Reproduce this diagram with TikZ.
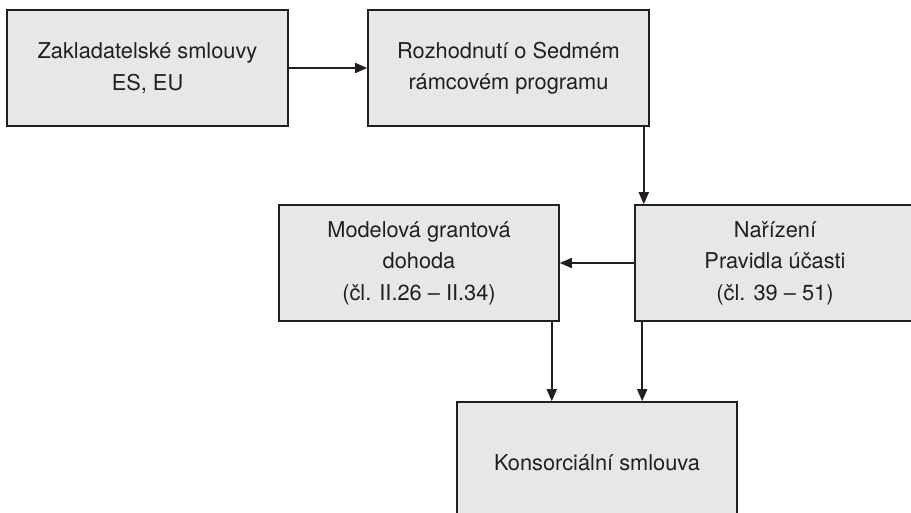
\documentclass[tikz,border=0pt]{standalone}
\usepackage{fontspec}
\setmainfont{TeX Gyre Heros}
\usetikzlibrary{arrows.meta}
\definecolor{boxfill}{HTML}{E6E7E8}
\definecolor{ink}{HTML}{231F20}
\begin{document}
\begin{tikzpicture}[x=1pt,y=-1pt,
  docbox/.style={draw=ink, line width=1.6pt, fill=boxfill, text=ink,
    font=\fontsize{21.8}{31.5}\selectfont, align=center, inner sep=0pt},
  flow/.style={draw=ink, line width=1.7pt,
    -{Triangle[length=12pt,width=10pt]}}]
\useasboundingbox (0,0) rectangle (911,513);
\clip (0,0) rectangle (911,513);
% document boxes
\node[docbox, minimum width=281pt, minimum height=116pt] (zakl) at (147.5,68)
  {Zakladatelské smlouvy\\ES, EU};
\node[docbox, minimum width=281pt, minimum height=116pt] (rozh) at (508.5,68)
  {Rozhodnutí o Sedmém\\rámcovém programu};
\node[docbox, minimum width=280pt, minimum height=116pt] (model) at (419,263)
  {Modelová grantová\\dohoda\\(čl. II.26 – II.34)};
\node[docbox, minimum width=280pt, minimum height=116pt] (nariz) at (775,263)
  {Nařízení\\Pravidla účasti\\(čl. 39 – 51)};
\node[docbox, minimum width=280pt, minimum height=122pt] (kons) at (597,463)
  {Konsorciální smlouva};
% connectors
\draw[flow] (zakl.east) -- (rozh.west);
\draw[flow] ([xshift=-6pt]rozh.south east) -- ([xshift=-6pt]rozh.south east |- nariz.north);
\draw[flow] (nariz.west) -- (model.east);
\draw[flow] ([xshift=-8pt]model.south east) -- ([xshift=-8pt]model.south east |- kons.north);
\draw[flow] ([xshift=8pt]nariz.south west) -- ([xshift=8pt]nariz.south west |- kons.north);
\end{tikzpicture}
\end{document}
